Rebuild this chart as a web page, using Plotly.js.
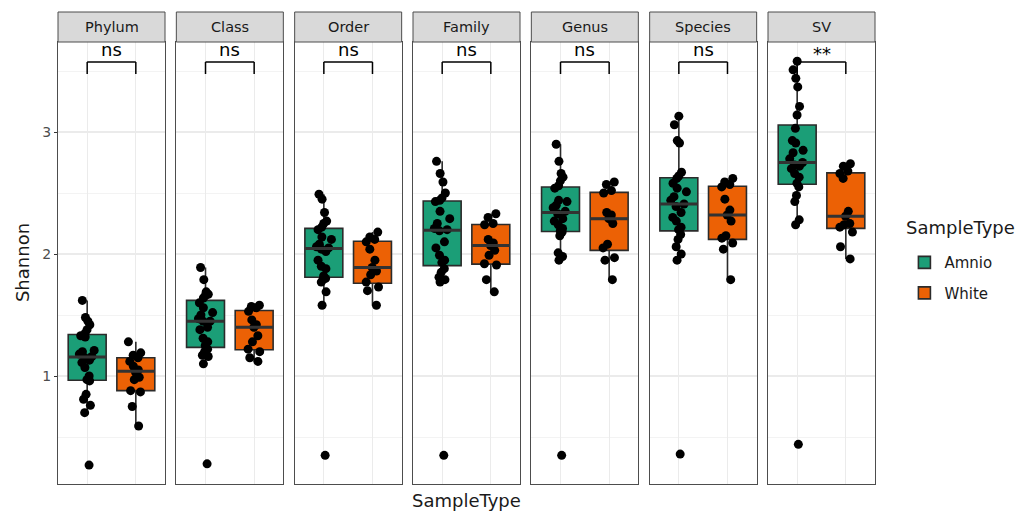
<!DOCTYPE html>
<html><head><meta charset="utf-8">
<script src="https://cdn.plot.ly/plotly-3.0.1.min.js"></script>
<style>html,body{margin:0;padding:0;background:#fff}#chart{width:1032px;height:515px}</style>
</head><body><div id="chart"></div>
<script>
// ---- data ----
const facets = ['Phylum', 'Class', 'Order', 'Family', 'Genus', 'Species', 'SV'];
const groups = ['Amnio', 'White'];
const sigLabels = ['ns', 'ns', 'ns', 'ns', 'ns', 'ns', '**'];

const amnioPhylum = [1.62, 1.48, 1.45, 1.42, 1.38, 1.35, 1.33, 1.32, 1.21, 1.20, 1.18, 1.16, 1.15, 1.13, 1.11, 1.07, 1.00, 0.97, 0.96, 0.85, 0.81, 0.76, 0.70, 0.27];
const whitePhylum = [1.28, 1.19, 1.17, 1.15, 1.12, 1.08, 1.05, 1.03, 0.99, 0.97, 0.88, 0.87, 0.75, 0.59];

const amnioClass = [1.89, 1.79, 1.69, 1.67, 1.66, 1.64, 1.60, 1.56, 1.52, 1.50, 1.47, 1.45, 1.45, 1.40, 1.38, 1.31, 1.28, 1.25, 1.22, 1.20, 1.17, 1.16, 1.10, 0.28];
const whiteClass = [1.58, 1.57, 1.56, 1.53, 1.46, 1.42, 1.40, 1.33, 1.28, 1.22, 1.20, 1.15, 1.12];

const amnioOrder = [2.49, 2.45, 2.34, 2.27, 2.25, 2.22, 2.20, 2.14, 2.12, 2.08, 2.06, 2.05, 2.04, 2.02, 1.95, 1.90, 1.88, 1.82, 1.80, 1.79, 1.77, 1.69, 1.58, 0.35];
const whiteOrder = [2.18, 2.14, 2.12, 2.10, 2.04, 1.95, 1.89, 1.86, 1.83, 1.77, 1.73, 1.70, 1.58];

const amnioFamily = [2.76, 2.66, 2.59, 2.50, 2.46, 2.44, 2.43, 2.35, 2.29, 2.25, 2.21, 2.20, 2.19, 2.10, 2.05, 1.99, 1.95, 1.93, 1.88, 1.85, 1.81, 1.79, 1.77, 0.35];
const whiteFamily = [2.33, 2.30, 2.25, 2.24, 2.12, 2.09, 2.07, 2.03, 1.99, 1.92, 1.91, 1.79, 1.69];

const amnioGenus = [2.90, 2.76, 2.66, 2.63, 2.60, 2.56, 2.54, 2.44, 2.43, 2.40, 2.38, 2.35, 2.33, 2.29, 2.27, 2.24, 2.21, 2.19, 2.18, 2.15, 2.01, 1.98, 1.95, 0.35];
const whiteGenus = [2.59, 2.57, 2.52, 2.50, 2.34, 2.32, 2.29, 2.25, 2.08, 2.05, 1.97, 1.95, 1.79];

const amnioSpecies = [3.13, 3.06, 2.93, 2.91, 2.67, 2.64, 2.62, 2.58, 2.54, 2.51, 2.47, 2.44, 2.41, 2.39, 2.34, 2.30, 2.27, 2.22, 2.20, 2.16, 2.12, 2.06, 2.00, 1.95, 0.36];
const whiteSpecies = [2.62, 2.59, 2.57, 2.55, 2.45, 2.36, 2.32, 2.27, 2.15, 2.13, 2.09, 2.04, 1.79];

const amnioSV = [3.58, 3.51, 3.44, 3.37, 3.21, 3.14, 3.03, 2.93, 2.91, 2.85, 2.83, 2.78, 2.75, 2.73, 2.72, 2.70, 2.66, 2.63, 2.58, 2.55, 2.48, 2.43, 2.28, 2.24, 0.44];
const whiteSV = [2.74, 2.72, 2.68, 2.66, 2.62, 2.35, 2.31, 2.25, 2.24, 2.22, 2.18, 2.06, 1.96];

const amnioValues = [amnioPhylum, amnioClass, amnioOrder, amnioFamily, amnioGenus, amnioSpecies, amnioSV];
const whiteValues = [whitePhylum, whiteClass, whiteOrder, whiteFamily, whiteGenus, whiteSpecies, whiteSV];

// ---- styling ----
const colors = {Amnio: '#1b9e77', White: '#ec6105'};
const FONT = 'DejaVu Sans, sans-serif';
const W = 1032, H = 515;
const mL = 58, mR = 157, mT = 12, mB = 31;
const plotW = W - mL - mR, plotH = H - mT - mB;
const panelW = 107, stripH = 30;
const step = (plotW - panelW) / (facets.length - 1);
const panelTop = 1 - stripH / plotH;
const yRange = [0.115, 3.738];
const boxWidth = 0.78;

function median(arr) {
  const s = arr.slice().sort((a, b) => a - b);
  const m = s.length / 2;
  return s.length % 2 ? s[Math.floor(m)] : (s[m - 1] + s[m]) / 2;
}

const traces = [];
const layout = {
  width: W, height: H,
  margin: {l: mL, r: mR, t: mT, b: mB, pad: 0},
  paper_bgcolor: '#fff', plot_bgcolor: '#fff',
  font: {family: FONT, color: '#1a1a1a'},
  boxmode: 'overlay',
  showlegend: true,
  legend: {
    x: 1.036, y: 0.504, xanchor: 'left', yanchor: 'top',
    font: {size: 15, color: '#1a1a1a'},
    traceorder: 'grouped', tracegroupgap: 8,
    bgcolor: 'rgba(0,0,0,0)'
  },
  shapes: [], annotations: []
};

facets.forEach((f, i) => {
  const n = i + 1;
  const xa = 'x' + (n === 1 ? '' : n), ya = 'y' + (n === 1 ? '' : n);
  const xk = 'xaxis' + (n === 1 ? '' : n), yk = 'yaxis' + (n === 1 ? '' : n);
  const d0 = (i * step) / plotW, d1 = (i * step + panelW) / plotW;
  layout[xk] = {
    domain: [d0, d1], anchor: ya, type: 'category',
    categoryorder: 'array', categoryarray: groups,
    range: [-0.6, 1.6], showticklabels: false, ticks: '',
    showgrid: true, gridcolor: '#ebebeb', gridwidth: 1.2,
    showline: true, mirror: true, linecolor: '#4d4d4d', linewidth: 1,
    zeroline: false, fixedrange: true
  };
  layout[yk] = {
    domain: [0, panelTop], anchor: xa, range: yRange,
    tick0: 0, dtick: 1,
    showgrid: true, gridcolor: '#ebebeb', gridwidth: 1.2,
    minor: {dtick: 0.5, showgrid: true, gridcolor: '#f0f0f0', gridwidth: 0.8},
    showline: true, mirror: true, linecolor: '#4d4d4d', linewidth: 1,
    zeroline: false, fixedrange: true,
    showticklabels: i === 0,
    ticks: i === 0 ? 'outside' : '', ticklen: 3, tickcolor: '#333',
    tickfont: {size: 14, color: '#4d4d4d'}
  };
  [[groups[0], amnioValues[i], 0], [groups[1], whiteValues[i], 1]].forEach(([g, vals, pos]) => {
    traces.push({
      type: 'box', name: g, legendgroup: g, showlegend: i === 0,
      x: vals.map(() => g), y: vals,
      xaxis: xa, yaxis: ya,
      width: boxWidth,
      fillcolor: colors[g],
      line: {color: '#2b2b2b', width: 1.6},
      whiskerwidth: 0,
      boxpoints: 'all', jitter: 0.45, pointpos: 0,
      marker: {color: '#000', size: 9, line: {width: 0}},
      hoverinfo: 'y'
    });
    // thicker median bar (ggplot style), computed from the data
    const med = median(vals);
    layout.shapes.push({type: 'line', xref: xa, yref: ya, x0: pos - boxWidth / 2, x1: pos + boxWidth / 2,
      y0: med, y1: med, line: {color: '#333333', width: 3}, layer: 'above'});
  });
  // facet strip
  layout.shapes.push({type: 'rect', xref: 'paper', yref: 'paper', x0: d0, x1: d1, y0: panelTop, y1: 1,
    fillcolor: '#d9d9d9', line: {color: '#4d4d4d', width: 1}, layer: 'above'});
  layout.annotations.push({xref: 'paper', yref: 'paper', x: (d0 + d1) / 2, y: (panelTop + 1) / 2,
    text: f, showarrow: false, font: {size: 14.5, color: '#1a1a1a'}, xanchor: 'center', yanchor: 'middle'});
  // significance bracket
  const yb = 3.475, yt = 3.574;
  const ln = {color: '#000', width: 1.5};
  layout.shapes.push({type: 'line', xref: xa, yref: ya, x0: 0, x1: 0, y0: yb, y1: yt, line: ln});
  layout.shapes.push({type: 'line', xref: xa, yref: ya, x0: 0, x1: 1, y0: yt, y1: yt, line: ln});
  layout.shapes.push({type: 'line', xref: xa, yref: ya, x0: 1, x1: 1, y0: yb, y1: yt, line: ln});
  layout.annotations.push({xref: xa, yref: ya, x: 0.5, y: sigLabels[i] === '**' ? 3.545 : 3.575, text: sigLabels[i],
    showarrow: false, xanchor: 'center', yanchor: 'bottom', font: {size: 18, color: '#000'}});
});

// axis titles
layout.annotations.push({xref: 'paper', yref: 'paper', x: 0.5, y: -0.036, yanchor: 'middle', xanchor: 'center',
  text: 'SampleType', showarrow: false, font: {size: 18, color: '#1a1a1a'}});
layout.annotations.push({xref: 'paper', yref: 'paper', x: -0.044, xanchor: 'center', y: panelTop / 2, yanchor: 'middle',
  text: 'Shannon', textangle: -90, showarrow: false, font: {size: 18, color: '#1a1a1a'}});
// legend title
layout.annotations.push({xref: 'paper', yref: 'paper', x: 1.036, xanchor: 'left', y: (484 - 227) / plotH, yanchor: 'middle',
  text: 'SampleType', showarrow: false, font: {size: 18, color: '#1a1a1a'}});

Plotly.newPlot('chart', traces, layout, {displayModeBar: false, staticPlot: true});
</script></body></html>
